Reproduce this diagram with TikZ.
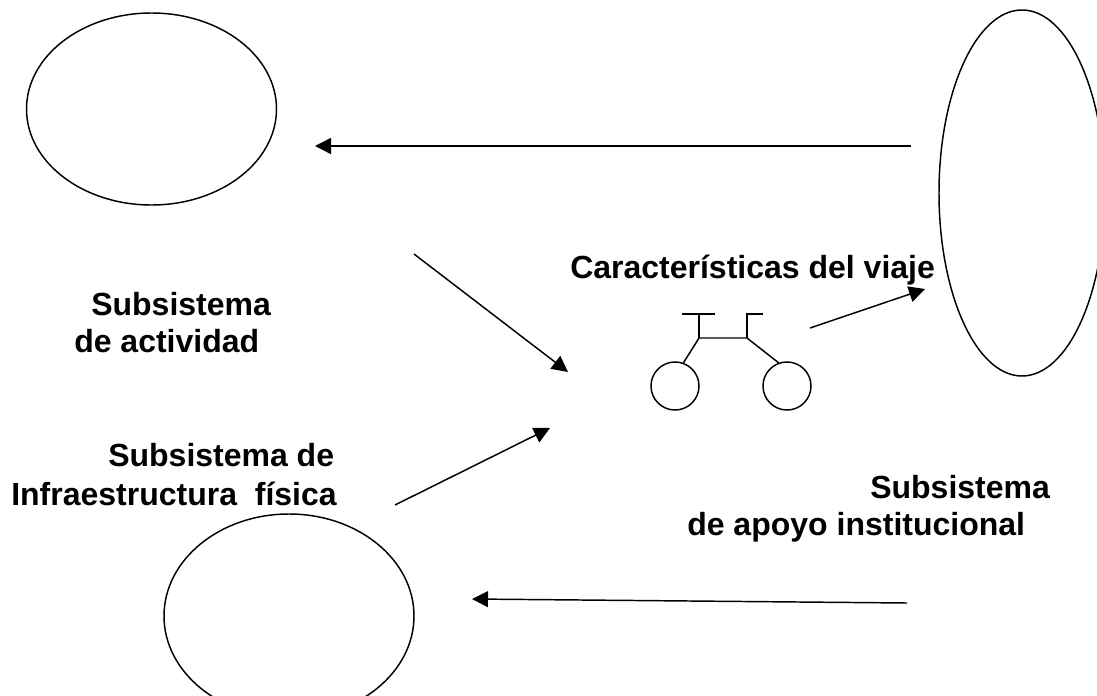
\documentclass[tikz,border=0pt]{standalone}
\usepackage{fontspec}
\setmainfont{Liberation Sans}
\usetikzlibrary{arrows.meta,shapes.geometric}

\begin{document}
\begin{tikzpicture}[x=0.75pt,y=-0.75pt,>=Stealth,
    sistema/.style={draw,ellipse,inner sep=0pt,line width=1.1pt},
    rueda/.style={draw,circle,inner sep=0pt,minimum size=36pt,line width=1.1pt},
    etiqueta/.style={font=\bfseries\fontsize{24}{28}\selectfont,anchor=base west,inner sep=0pt},
    punta/.style={-{Triangle[length=12pt,width=12pt]},line width=1.1pt},
    marco/.style={line width=1.1pt}]
    \useasboundingbox (0,0) rectangle (1097,696);

    \node (actividad) [sistema,minimum width=187.5pt,minimum height=144pt] at (151.5,109) {};
    \node (apoyo)     [sistema,minimum width=124.5pt,minimum height=274.5pt] at (1022,193) {};
    \node (infra)     [sistema,minimum width=187.5pt,minimum height=153pt] at (289,616) {};

    \node (viaje) [etiqueta] at (570,278) {Características del viaje};
    \node (act1)  [etiqueta] at (91,315) {Subsistema};
    \node (act2)  [etiqueta] at (74,352) {de actividad};
    \node (inf1)  [etiqueta] at (108,466) {Subsistema de};
    \node (inf2)  [etiqueta] at (11,505) {Infraestructura~ física};
    \node (apo1)  [etiqueta] at (870,498) {Subsistema};
    \node (apo2)  [etiqueta] at (687,535) {de apoyo institucional};

    \node (ruedaizq) [rueda] at (675,386) {};
    \node (ruedader) [rueda] at (787,386) {};
    \coordinate (marcoizq) at (699,338);
    \coordinate (marcoder) at (747,338);
    \coordinate (tijizq)   at (699,314);
    \coordinate (tijder)   at (747,314);
    \coordinate (maniizq)  at (682,314);
    \coordinate (manimed)  at (715,314);
    \coordinate (manider)  at (763,314);

    \draw[marco] (ruedaizq.70) -- (marcoizq) -- (marcoder) -- (ruedader.110);
    \draw[marco] (marcoizq) -- (tijizq);
    \draw[marco] (marcoder) -- (tijder) -- (manider);
    \draw[marco] (maniizq) -- (manimed);

    \coordinate (a1) at (911,146);
    \coordinate (a2) at (315,146);
    \coordinate (b1) at (414,254);
    \coordinate (b2) at (568,372);
    \coordinate (c1) at (395,505);
    \coordinate (c2) at (550,428);
    \coordinate (d1) at (810,328);
    \coordinate (d2) at (925,289);
    \coordinate (e1) at (907,603);
    \coordinate (e2) at (472,599);

    \draw[punta] (a1) -- (a2);
    \draw[punta] (b1) -- (b2);
    \draw[punta] (c1) -- (c2);
    \draw[punta] (d1) -- (d2);
    \draw[punta] (e1) -- (e2);
  \end{tikzpicture}
\end{document}
